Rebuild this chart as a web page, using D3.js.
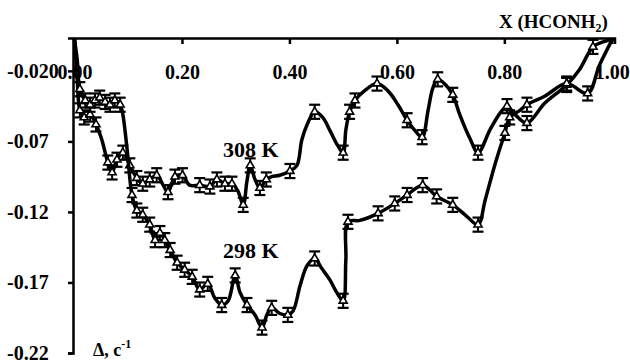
<!DOCTYPE html>
<html><head><meta charset="utf-8">
<script src="https://cdn.jsdelivr.net/npm/d3@7"></script>
<style>body{margin:0;background:#fff} svg{display:block}</style>
</head><body><svg id="c" width="630" height="363"></svg>
<script>
// ---- data ----
const x308 = [0.000,0.005,0.010,0.018,0.029,0.040,0.051,0.062,0.070,0.079,0.090,0.103,0.116,0.127,0.140,0.153,0.165,0.174,0.187,0.201,0.214,0.233,0.252,0.265,0.280,0.293,0.304,0.314,0.321,0.327,0.336,0.345,0.357,0.367,0.382,0.401,0.414,0.423,0.433,0.447,0.462,0.475,0.490,0.500,0.505,0.512,0.522,0.540,0.563,0.583,0.602,0.619,0.633,0.647,0.658,0.667,0.676,0.691,0.704,0.717,0.736,0.751,0.773,0.792,0.805,0.820,0.842,0.875,0.916,0.940,0.965,0.987,1.002];
const y308 = [0.002,-0.026,-0.048,-0.053,-0.051,-0.058,-0.069,-0.085,-0.092,-0.083,-0.078,-0.087,-0.096,-0.100,-0.097,-0.094,-0.101,-0.106,-0.095,-0.094,-0.101,-0.101,-0.102,-0.097,-0.100,-0.100,-0.105,-0.115,-0.098,-0.087,-0.097,-0.103,-0.097,-0.095,-0.094,-0.091,-0.087,-0.069,-0.058,-0.049,-0.053,-0.062,-0.073,-0.078,-0.062,-0.049,-0.041,-0.034,-0.029,-0.034,-0.044,-0.055,-0.062,-0.067,-0.048,-0.032,-0.026,-0.030,-0.037,-0.051,-0.068,-0.078,-0.062,-0.050,-0.045,-0.051,-0.057,-0.043,-0.030,-0.019,-0.003,0.001,0.002];
const err308 = [0,0,.005,.005,.005,.005,0,.005,.005,.005, .005,.005,.005,.005,.005,.005,0,.005,.005,.005, 0,.005,.005,.005,.005,.005,0,.005,0,.005, 0,.005,.005,0,0,.005,0,0,0,.005, 0,0,0,.005,0,.005,.005,0,.005,0, 0,.005,0,.005,0,0,.005,0,.005,0, 0,.005,0,0,.005,0,.005,0,.005,0, .005,0,0];

const x298 = [0.000,0.005,0.010,0.020,0.029,0.038,0.047,0.057,0.066,0.075,0.085,0.090,0.098,0.107,0.116,0.127,0.140,0.150,0.159,0.168,0.178,0.191,0.205,0.219,0.233,0.248,0.261,0.274,0.286,0.299,0.308,0.321,0.336,0.349,0.358,0.367,0.382,0.397,0.407,0.420,0.433,0.447,0.460,0.475,0.488,0.500,0.505,0.509,0.531,0.565,0.596,0.619,0.648,0.674,0.704,0.727,0.751,0.764,0.782,0.801,0.810,0.829,0.842,0.875,0.916,0.955,0.977,1.002];
const y298 = [0.002,-0.012,-0.033,-0.041,-0.044,-0.041,-0.039,-0.042,-0.044,-0.041,-0.044,-0.051,-0.076,-0.108,-0.119,-0.122,-0.129,-0.140,-0.135,-0.140,-0.147,-0.156,-0.161,-0.166,-0.175,-0.171,-0.181,-0.186,-0.183,-0.165,-0.177,-0.186,-0.193,-0.202,-0.193,-0.188,-0.192,-0.193,-0.190,-0.172,-0.158,-0.153,-0.160,-0.168,-0.177,-0.183,-0.154,-0.127,-0.126,-0.121,-0.114,-0.108,-0.101,-0.109,-0.115,-0.122,-0.129,-0.112,-0.087,-0.064,-0.053,-0.048,-0.044,-0.038,-0.029,-0.036,-0.016,0.003];
const err298 = [0,0,.005,.005,.005,.005,.005,.005,.005,.005, .005,0,0,.005,.005,.005,.005,.005,.005,.005, .005,.005,.005,.005,.005,.005,0,.005,0,.005, 0,.005,0,.005,0,.005,0,.005,0,0, 0,.005,0,0,0,.005,0,.005,0,.005, .005,.005,.005,.005,.005,0,.005,0,0,.005, .005,0,.005,0,.005,.005,0,0];

const seriesNames = ["308 K","298 K"];
const xTicks = [0,0.2,0.4,0.6,0.8,1.0];
const xTickLabels = ["0.00","0.20","0.40","0.60","0.80","1.00"];
const yTicks = [-0.02,-0.07,-0.12,-0.17,-0.22];
const yTickLabels = ["-0.020","-0.07","-0.12","-0.17","-0.22"];

// ---- drawing ----
const svg = d3.select("#c");
const FONT = "'Liberation Serif','Times New Roman',serif";
const x = d3.scaleLinear().domain([0,1.005]).range([74.5,614.5]);
const y = d3.scaleLinear().domain([-0.22,0.0033]).range([353,38]);

// x axis (top line, ticks inward, labels below)
const gx = svg.append("g").attr("transform","translate(0,38)")
  .call(d3.axisBottom(x).tickValues(xTicks).tickFormat((d,i)=>xTickLabels[i])
        .tickSizeOuter(0).tickSize(6).tickPadding(21));
gx.select(".domain").attr("stroke","#000").attr("stroke-width",2.5);
gx.selectAll(".tick line").attr("stroke","#000").attr("stroke-width",2.5);
gx.selectAll(".tick text").attr("font-family",FONT).attr("font-weight","bold")
  .attr("font-size",20).attr("fill","#000");

// y axis
const gy = svg.append("g").attr("transform","translate(73,0)")
  .call(d3.axisLeft(y).tickValues(yTicks).tickFormat((d,i)=>yTickLabels[i])
        .tickSizeOuter(0).tickSize(5).tickPadding(3));
gy.select(".domain").attr("stroke","#000").attr("stroke-width",2.5);
gy.selectAll(".tick line").attr("stroke","#000").attr("stroke-width",2.5);
gy.selectAll(".tick text").attr("font-family",FONT).attr("font-weight","bold")
  .attr("font-size",20).attr("fill","#000").attr("text-anchor","start").attr("x",-66);

const line = d3.line().x(d=>x(d[0])).y(d=>y(d[1])).curve(d3.curveCatmullRom.alpha(0.5));

function series(xs, ys, es){
  const pts = xs.map((v,i)=>[v, ys[i], es[i]]);
  svg.append("path").datum(pts).attr("d",line).attr("fill","none")
    .attr("stroke","#000").attr("stroke-width",3.5).attr("stroke-linejoin","round");
  const bars = pts.filter(p=>p[2]>0);
  const g = svg.append("g");
  g.selectAll("line.v").data(bars).join("line")
    .attr("x1",p=>x(p[0])).attr("x2",p=>x(p[0]))
    .attr("y1",p=>y(p[1]-p[2])).attr("y2",p=>y(p[1]+p[2]))
    .attr("stroke","#000").attr("stroke-width",2);
  g.selectAll("line.t").data(bars).join("line")
    .attr("x1",p=>x(p[0])-5.5).attr("x2",p=>x(p[0])+5.5)
    .attr("y1",p=>y(p[1]+p[2])).attr("y2",p=>y(p[1]+p[2]))
    .attr("stroke","#000").attr("stroke-width",2.2);
  g.selectAll("line.b").data(bars).join("line")
    .attr("x1",p=>x(p[0])-5.5).attr("x2",p=>x(p[0])+5.5)
    .attr("y1",p=>y(p[1]-p[2])).attr("y2",p=>y(p[1]-p[2]))
    .attr("stroke","#000").attr("stroke-width",2.2);
  g.selectAll("path.m").data(bars).join("path")
    .attr("d",d3.symbol(d3.symbolTriangle,28))
    .attr("transform",p=>`translate(${x(p[0])},${y(p[1])})`)
    .attr("fill","#fff").attr("stroke","#000").attr("stroke-width",1.6);
}
series(x308,y308,err308);
series(x298,y298,err298);

// series labels
const lab = [[seriesNames[0],223,157],[seriesNames[1],223,258]];
svg.selectAll("text.s").data(lab).join("text")
  .attr("x",d=>d[1]).attr("y",d=>d[2]).text(d=>d[0])
  .attr("font-family",FONT).attr("font-weight","bold").attr("font-size",22);

// axis titles
const tx = svg.append("text").attr("x",499).attr("y",28)
  .attr("font-family",FONT).attr("font-weight","bold").attr("font-size",19);
tx.append("tspan").text("X (HCONH");
tx.append("tspan").text("2").attr("font-size",12).attr("dy",4);
tx.append("tspan").text(")").attr("dy",-4);

const ty = svg.append("text").attr("x",93).attr("y",356)
  .attr("font-family",FONT).attr("font-weight","bold").attr("font-size",18);
ty.append("tspan").text("Δ, c");
ty.append("tspan").text("-1").attr("font-size",12).attr("dy",-8);
</script></body></html>
